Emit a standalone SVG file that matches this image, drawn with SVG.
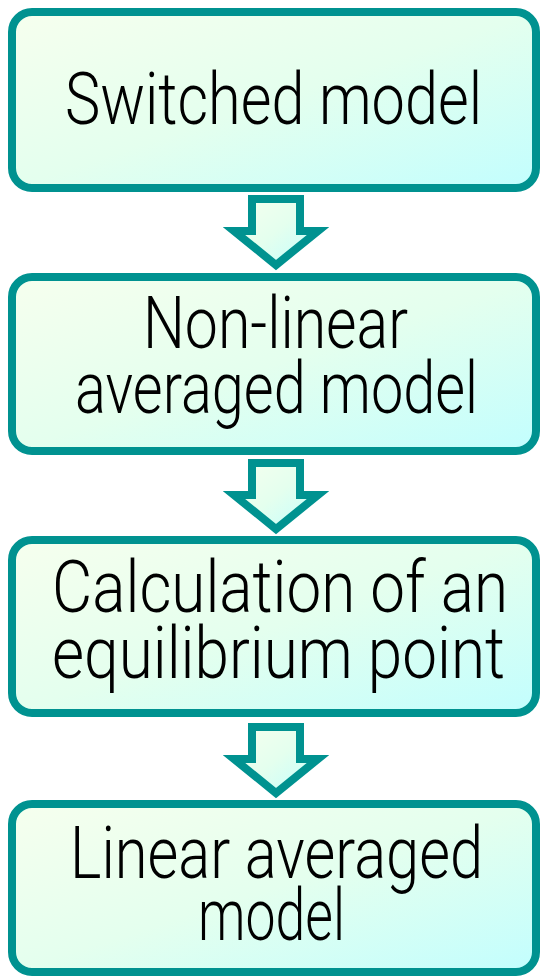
<svg xmlns="http://www.w3.org/2000/svg" width="542" height="979" viewBox="0 0 542 979">
<defs>
<linearGradient id="g" x1="0" y1="0" x2="1" y2="1">
<stop offset="0" stop-color="#F6FFEE"/>
<stop offset="0.5" stop-color="#E4FFEE"/>
<stop offset="1" stop-color="#C2FEFE"/>
</linearGradient>
<style>
.box{fill:url(#g);stroke:#009290;stroke-width:8}
.arr{fill:url(#g);stroke:#009290;stroke-width:8;stroke-linejoin:miter}
text{font-family:Roboto,"Liberation Sans",Arial,sans-serif;font-weight:300;font-size:73px;fill:#000}
</style>
</defs>
<g id="connectors">
<polygon class="arr" points="252,199 300,199 300,231 318,231 276,265 234,231 252,231"/>
<polygon class="arr" points="252,463 300,463 300,495 318,495 276,529 234,495 252,495"/>
<polygon class="arr" points="252,727 300,727 300,759 318,759 276,793 234,759 252,759"/>
</g>
<g id="n1">
<rect class="box" x="12" y="12" width="524" height="176" rx="20"/>
<text x="65" y="124" textLength="417" lengthAdjust="spacingAndGlyphs">Switched model</text>
</g>
<g id="n2">
<rect class="box" x="12" y="277" width="524" height="174" rx="20"/>
<text x="143" y="348" textLength="265" lengthAdjust="spacingAndGlyphs">Non-linear</text>
<text x="75" y="413" textLength="403" lengthAdjust="spacingAndGlyphs">averaged model</text>
</g>
<g id="n3">
<rect class="box" x="12" y="540" width="524" height="173" rx="20"/>
<text x="52" y="612" textLength="456" lengthAdjust="spacingAndGlyphs">Calculation of an</text>
<text x="52" y="678" textLength="453" lengthAdjust="spacingAndGlyphs">equilibrium point</text>
</g>
<g id="n4">
<rect class="box" x="12" y="804" width="524" height="168" rx="20"/>
<text x="70" y="878" textLength="413" lengthAdjust="spacingAndGlyphs">Linear averaged</text>
<text x="198" y="940" textLength="147" lengthAdjust="spacingAndGlyphs">model</text>
</g>
</svg>
